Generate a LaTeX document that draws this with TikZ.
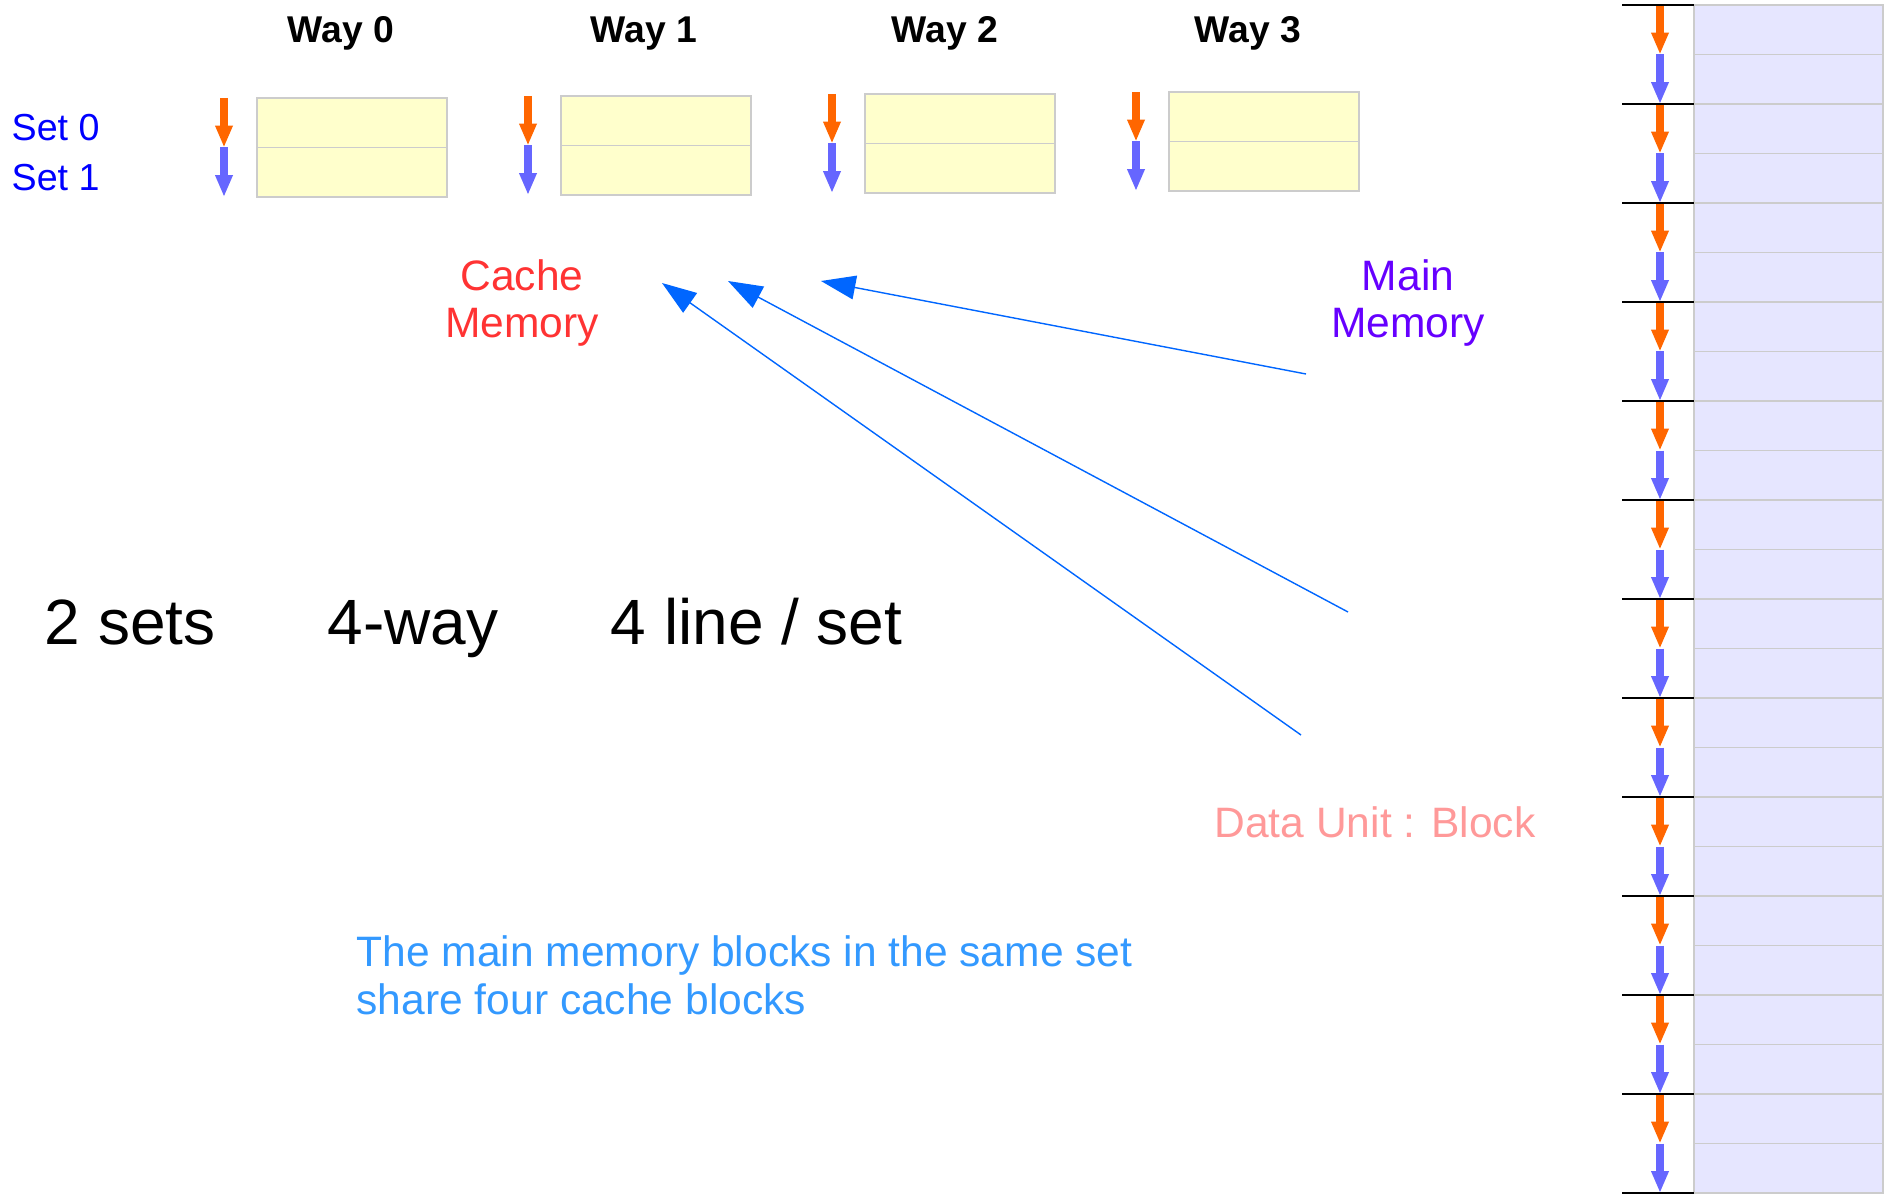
\documentclass[tikz,border=0pt]{standalone}
\usepackage{fontspec}
\setmainfont{Liberation Sans}
\usetikzlibrary{arrows.meta}

\definecolor{setblue}{HTML}{0000FF}
\definecolor{arrorange}{HTML}{FF6600}
\definecolor{arrblue}{HTML}{6666FF}
\definecolor{cachefill}{HTML}{FFFFCC}
\definecolor{memfill}{HTML}{E6E6FF}
\definecolor{boxgray}{HTML}{CCCCCC}
\definecolor{cachered}{HTML}{FF3333}
\definecolor{mainpurple}{HTML}{6600FF}
\definecolor{unitpink}{HTML}{FF9999}
\definecolor{noteblue}{HTML}{3399FF}
\definecolor{pointblue}{HTML}{0066FF}

\begin{document}
\begin{tikzpicture}[x=0.01cm, y=-0.01cm,
        cacheline/.style={draw=boxgray, fill=cachefill, line width=0.4pt, minimum width=1.9cm, minimum height=0.495cm, inner sep=0, outer sep=0},
        memline/.style={draw=boxgray, fill=memfill, line width=0.4pt, minimum width=1.89cm, minimum height=0.495cm, inner sep=0, outer sep=0},
        fatarrow/.style={line width=2.3pt, -{Triangle[length=6.2pt, width=4.6pt]}},
        pointer/.style={pointblue, line width=0.4pt, -{Triangle[length=9.8pt, width=6.8pt]}},
        waylabel/.style={font=\bfseries\fontsize{10.6}{12}\selectfont, anchor=base, inner sep=0},
        setlabel/.style={text=setblue, font=\fontsize{10.7}{12}\selectfont, anchor=base west, inner sep=0},
        bigtext/.style={font=\fontsize{18.2}{20}\selectfont, anchor=base west, inner sep=0},
        note/.style={font=\fontsize{12.1}{13.6}\selectfont, inner sep=0}]
    \useasboundingbox (0,0) rectangle (1884,1194);

    % cache: four ways, two sets each
    \foreach \k/\lx in {0/341,1/644,2/945,3/1248} {
        \pgfmathsetmacro{\wx}{257+304*\k}
        \pgfmathsetmacro{\wy}{98-2*\k}
        \node[waylabel] (way\k) at (\lx,43) {Way \k};
        \node[cacheline] (c\k-0) at (\wx+95, \wy+24.75) {};
        \node[cacheline] (c\k-1) at (\wx+95, \wy+74.25) {};
        \draw[fatarrow, arrorange] (\wx-33, \wy) -- (\wx-33, \wy+49.5);
        \draw[fatarrow, arrblue] (\wx-33, \wy+49.5) -- (\wx-33, \wy+99);
    }
    \node[setlabel] (set0) at (11,141) {Set 0};
    \node[setlabel] (set1) at (11,191) {Set 1};

    % main memory column
    \foreach \r in {0,...,23}
        \node[memline] (mem\r) at (1788.5, 29.75+49.5*\r) {};
    \foreach \s in {0,...,11} {
        \draw[fatarrow, arrorange] (1660, 5+99*\s) -- (1660, 54.5+99*\s);
        \draw[fatarrow, arrblue] (1660, 54.5+99*\s) -- (1660, 104+99*\s);
    }
    \foreach \s in {0,...,12}
        \draw[line width=0.4pt] (1622, 5+99*\s) -- (1694, 5+99*\s);

    \node[note, text=cachered, align=center] (cache) at (522,303) {Cache\\Memory};
    \node[note, text=mainpurple, align=center] (main) at (1408,303) {Main\\Memory};
    \node[note, text=unitpink, anchor=base] (unit) at (1375,837) {Data Unit : Block};
    \node[note, text=noteblue, align=left, anchor=west] (share) at (356,975)
        {The main memory blocks in the same set\\share four cache blocks};

    \node[bigtext] (sets) at (44,644) {2 sets};
    \node[bigtext] (ways) at (327,644) {4-way};
    \node[bigtext] (lines) at (610,644) {4 line / set};

    % pointers towards the cache
    \coordinate (tail0) at (1301,735);
    \coordinate (tip0) at (662,283);
    \coordinate (tail1) at (1348,612);
    \coordinate (tip1) at (728,281);
    \coordinate (tail2) at (1306,374);
    \coordinate (tip2) at (821,281);
    \draw[pointer] (tail0) -- (tip0);
    \draw[pointer] (tail1) -- (tip1);
    \draw[pointer] (tail2) -- (tip2);
\end{tikzpicture}
\end{document}
